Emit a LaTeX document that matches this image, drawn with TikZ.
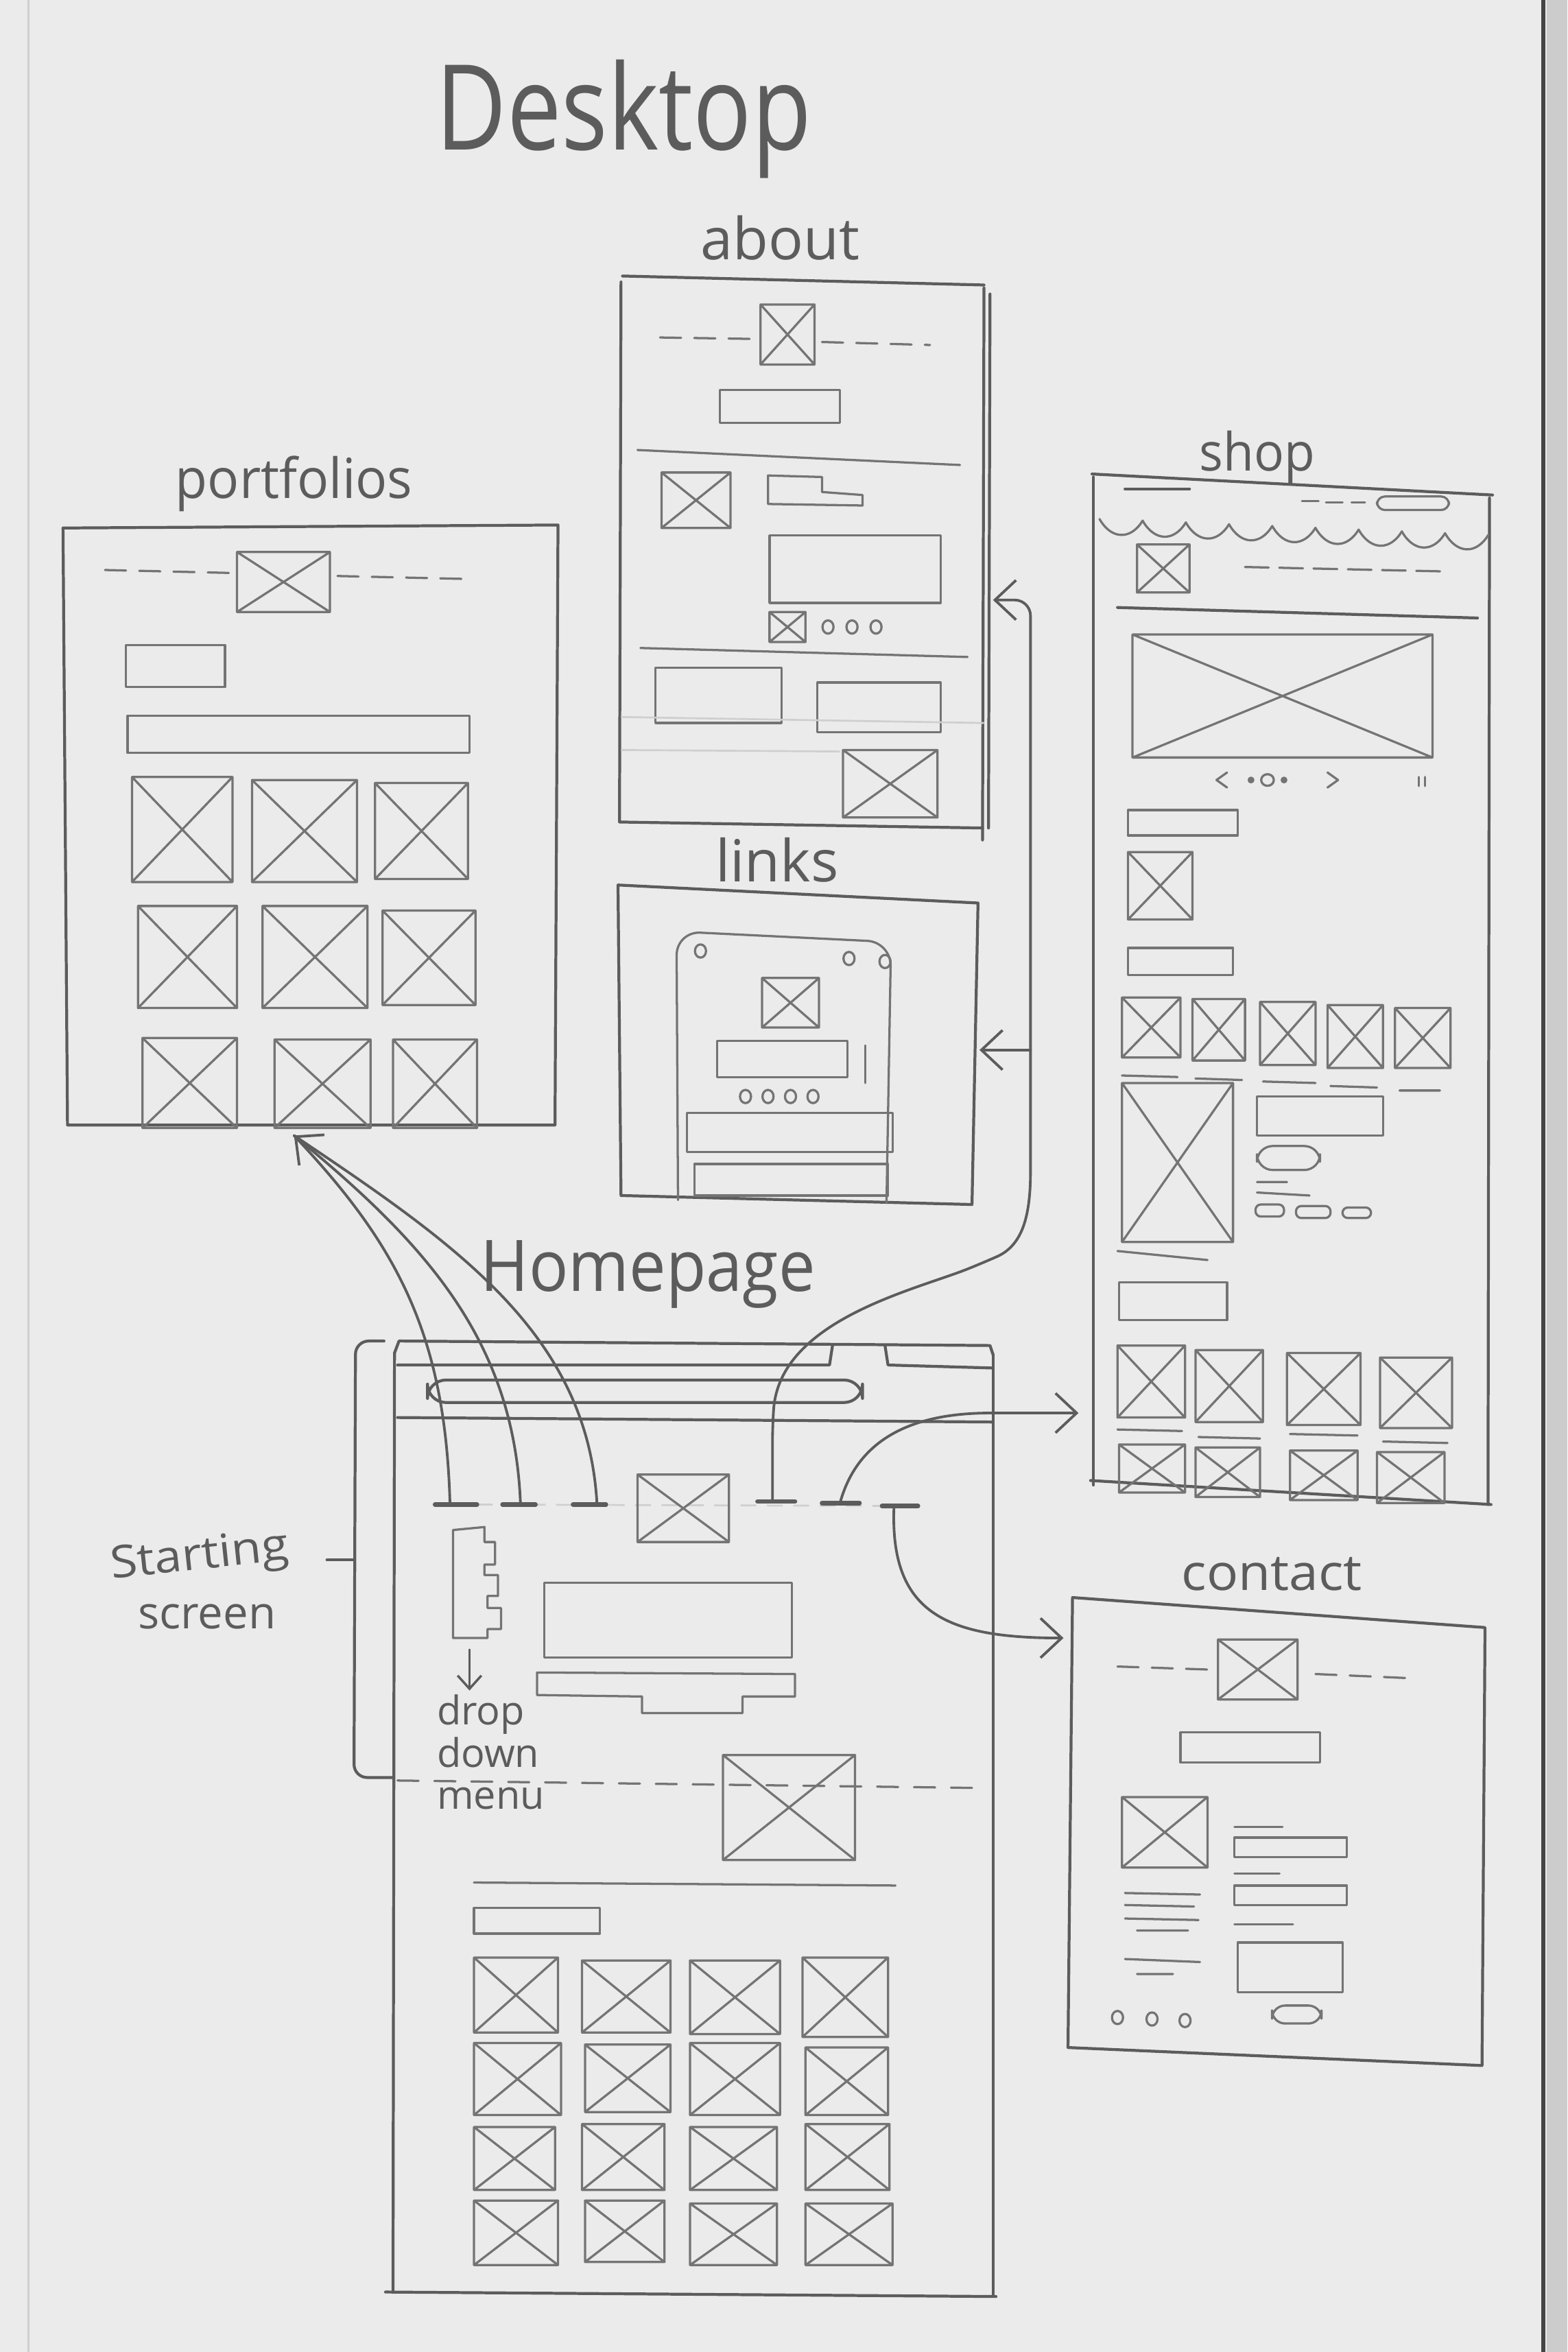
\documentclass[tikz,border=0pt]{standalone}
\usepackage{fontspec}
\setmainfont{Open Sans}
\usetikzlibrary{arrows.meta}

\definecolor{paper}{HTML}{EBEBEB}
\definecolor{pencil}{HTML}{5C5C5C}
\definecolor{softpencil}{HTML}{747474}
\definecolor{faint}{HTML}{CFCFCF}
\definecolor{pageedge}{HTML}{454545}

\tikzset{
  pageline/.style={draw=pencil, line width=1.1pt, line cap=round, line join=round},
  ink/.style={draw=softpencil, line width=0.85pt, line cap=round, line join=round},
  faintline/.style={draw=faint, line width=0.7pt},
  navmark/.style={draw=pencil, line width=1.7pt, line cap=round},
  dashedink/.style={ink, dash pattern=on 8pt off 5pt},
  lbl/.style={text=pencil, inner sep=0pt, anchor=base},
  link/.style={draw=pencil, line width=1pt, line cap=round,
    -{Straight Barb[length=8pt,width=15pt,line width=1pt]}},
  plainlink/.style={draw=pencil, line width=1pt, line cap=round},
}

% placeholder image: box with a cross
\newcommand\imgx[4]{\draw[ink] (#1,#2) rectangle (#3,#4) (#1,#2) -- (#3,#4) (#1,#4) -- (#3,#2);}
% plain content block
\newcommand\barbox[4]{\draw[ink] (#1,#2) rectangle (#3,#4);}
% small round dot
\newcommand\dotring[2]{\draw[ink] (#1,#2) ellipse [x radius=2.1pt, y radius=2.5pt];}

\begin{document}
\begin{tikzpicture}[x=0.02cm,y=-0.02cm]
\fill[paper] (0,0) rectangle (1045,1568);
\useasboundingbox (0,0) rectangle (1045,1568);
% sheet edges
\fill[gray!40] (1031,0) rectangle (1045,1568);
\draw[pageedge, line width=1.6pt] (1029,0) -- (1029,1568);
\draw[faintline] (19,0) -- (19,1568);

% ---------- titles ----------
\node[lbl, font=\fontsize{45}{50}\selectfont] (title) at (416,100) {\scalebox{0.82}[1]{Desktop}};
\node[lbl, font=\fontsize{22}{24}\selectfont] (aboutlbl) at (520,173) {about};
\node[lbl, font=\fontsize{22}{24}\selectfont] (linkslbl) at (518,588) {links};
\node[lbl, font=\fontsize{21}{24}\selectfont] (portlbl) at (196,332) {\scalebox{0.95}[1]{portfolios}};
\node[lbl, font=\fontsize{20}{24}\selectfont] (shoplbl) at (838,314) {\scalebox{0.95}[1]{shop}};
\node[lbl, font=\fontsize{27}{30}\selectfont] (homelbl) at (432,861) {\scalebox{0.92}[1]{Homepage}};
\node[lbl, font=\fontsize{19}{22}\selectfont] (contactlbl) at (848,1060) {\scalebox{1.05}[1]{contact}};
\node[lbl, font=\fontsize{17}{20}\selectfont, rotate=6] (startlbl) at (134,1046) {\scalebox{1.1}[1]{Starting}};
\node[lbl, font=\fontsize{17}{20}\selectfont] (screenlbl) at (138,1086) {screen};
\node[lbl, font=\fontsize{15}{18}\selectfont, anchor=base west] (droplbl) at (291,1150) {drop};
\node[lbl, font=\fontsize{15}{18}\selectfont, anchor=base west] (downlbl) at (291,1178) {down};
\node[lbl, font=\fontsize{15}{18}\selectfont, anchor=base west] (menulbl) at (291,1206) {menu};

% ---------- about ----------
\draw[pageline] (415,184) -- (656,190);
\draw[pageline] (414,188) -- (413,548) -- (655,552);
\draw[pageline] (656,192) -- (655,560);
\draw[pageline] (660,196) -- (659,552);
\draw[dashedink] (440,225) -- (505,226);
\draw[dashedink] (548,228) -- (620,230);
\imgx{507}{203}{543}{243}
\barbox{480}{260}{560}{282}
\draw[ink] (425,300) -- (640,310);
\imgx{441}{315}{487}{352}
\draw[ink] (512,317) -- (548,318) -- (548,328) -- (575,330) -- (575,337) -- (512,336) -- cycle;
\barbox{513}{357}{627}{402}
\imgx{513}{408}{537}{428}
\dotring{552}{418}\dotring{568}{418}\dotring{584}{418}
\draw[ink] (427,432) -- (645,438);
\barbox{437}{445}{521}{482}
\barbox{545}{455}{627}{488}
\draw[faintline] (414,478) -- (656,482);
\draw[faintline] (414,500) -- (560,501);
\imgx{562}{500}{625}{545}

% ---------- links ----------
\draw[pageline] (412,590) -- (652,602) -- (648,803) -- (414,797) -- cycle;
\draw[ink, rounded corners=9pt] (452,800) -- (451,621) -- (594,628) -- (591,802);
\dotring{467}{634}\dotring{566}{639}\dotring{590}{641}
\imgx{508}{652}{546}{685}
\barbox{478}{694}{565}{718}
\draw[ink] (577,697) -- (577,722);
\dotring{497}{731}\dotring{512}{731}\dotring{527}{731}\dotring{542}{731}
\barbox{458}{742}{595}{768}
\barbox{463}{776}{592}{797}

% ---------- portfolios ----------
\draw[pageline] (42,352) -- (372,350) -- (370,750) -- (45,750) -- cycle;
\draw[dashedink] (70,380) -- (155,382);
\draw[dashedink] (225,384) -- (312,386);
\imgx{158}{368}{220}{408}
\barbox{84}{430}{150}{458}
\barbox{85}{477}{313}{502}
\imgx{88}{518}{155}{588}\imgx{168}{520}{238}{588}\imgx{250}{522}{312}{586}
\imgx{92}{604}{158}{672}\imgx{175}{604}{245}{672}\imgx{255}{607}{317}{670}
\imgx{95}{692}{158}{752}\imgx{183}{693}{247}{752}\imgx{262}{693}{318}{752}

% ---------- shop ----------
\draw[pageline] (728,316) -- (995,330);
\draw[pageline] (729,318) -- (729,990);
\draw[pageline] (993,332) -- (992,1003);
\draw[pageline] (727,987) -- (994,1003);
\draw[pageline] (750,326) -- (793,326);
\draw[ink] (868,334) -- (879,334) (884,335) -- (895,335) (901,335) -- (910,335);
\draw[ink, rounded corners=3pt] (918,331) rectangle (966,340);
\foreach \i in {0,...,8}
  \draw[ink] ({733+28.8*\i},{346+1.2*\i}) .. controls ({741+28.8*\i},{360+1.2*\i}) and ({754+28.8*\i},{360+1.2*\i}) .. ({761.8+28.8*\i},{347+1.2*\i});
\imgx{758}{363}{793}{395}
\draw[ink, dash pattern=on 9pt off 4pt] (830,378) -- (965,381);
\draw[pageline] (745,405) -- (985,412);
\imgx{755}{423}{955}{505}
\draw[ink] (818,515) -- (811,520) -- (818,525);
\fill[softpencil] (834,520) circle (1.3pt) (856,520) circle (1.3pt);
\draw[ink] (845,520) ellipse [x radius=2.4pt, y radius=2.2pt];
\draw[ink] (885,515) -- (892,520) -- (885,525);
\draw[ink] (946,518) -- (946,524) (950,518) -- (950,524);
\barbox{752}{540}{825}{557}
\imgx{752}{568}{795}{613}
\barbox{752}{632}{822}{650}
\imgx{748}{665}{787}{705}\imgx{795}{666}{830}{707}\imgx{840}{668}{877}{710}\imgx{885}{670}{922}{712}\imgx{930}{672}{967}{712}
\draw[ink] (748,717) -- (785,718) (797,719) -- (828,720) (842,721) -- (877,722) (887,724) -- (918,725) (933,727) -- (960,727);
\imgx{748}{722}{822}{828}
\barbox{838}{731}{922}{757}
\draw[ink, rounded corners=6pt] (838,764) rectangle (880,780);
\draw[ink] (838,788) -- (858,788) (838,795) -- (873,797);
\draw[ink, rounded corners=2pt] (837,803) rectangle (856,811) (864,804) rectangle (887,812) (895,805) rectangle (914,812);
\draw[ink] (745,834) -- (805,840);
\barbox{746}{855}{818}{880}
\imgx{745}{897}{790}{945}\imgx{797}{900}{842}{948}\imgx{858}{902}{907}{950}\imgx{920}{905}{968}{952}
\draw[ink] (745,953) -- (788,954) (799,958) -- (840,959) (860,956) -- (905,957) (922,961) -- (965,962);
\imgx{746}{963}{790}{995}\imgx{797}{965}{840}{998}\imgx{860}{967}{905}{1000}\imgx{918}{968}{963}{1002}

% ---------- contact ----------
\draw[pageline] (715,1065) -- (990,1085) -- (988,1377) -- (712,1365) -- cycle;
\draw[dashedink] (745,1111) -- (805,1113);
\draw[dashedink] (877,1116) -- (945,1119);
\imgx{812}{1093}{865}{1133}
\barbox{787}{1155}{880}{1175}
\imgx{748}{1198}{805}{1245}
\draw[ink] (823,1218) -- (855,1218);
\barbox{823}{1225}{898}{1238}
\draw[ink] (823,1249) -- (853,1249);
\barbox{823}{1257}{898}{1270}
\draw[ink] (823,1283) -- (862,1283);
\barbox{825}{1295}{895}{1328}
\draw[ink] (750,1262) -- (800,1263) (750,1270) -- (796,1271) (750,1279) -- (799,1280) (758,1287) -- (792,1287) (750,1306) -- (800,1308) (758,1316) -- (782,1316);
\dotring{745}{1345}\dotring{768}{1346}\dotring{790}{1347}
\draw[ink, rounded corners=5pt] (848,1337) rectangle (881,1349);

% ---------- homepage ----------
\draw[pageline] (263,902) -- (266,894) -- (660,897) -- (662,903);
\draw[pageline] (265,910) -- (553,910) -- (555,897);
\draw[pageline] (590,897) -- (592,910) -- (662,912);
\draw[pageline, rounded corners=7pt] (285,920) rectangle (575,935);
\draw[pageline] (265,945) -- (662,948);
\draw[pageline] (263,902) -- (262,1528);
\draw[pageline] (662,903) -- (662,1530);
\draw[pageline] (257,1528) -- (664,1531);
% navigation bar
\draw[faintline, dash pattern=on 6pt off 4pt] (318,1003) -- (612,1004);
\draw[navmark] (290,1003) -- (318,1003) (335,1003) -- (357,1003) (382,1003) -- (404,1003);
\draw[navmark] (505,1001) -- (530,1001) (548,1002) -- (573,1002) (588,1004) -- (612,1004);
\imgx{425}{983}{486}{1028}
% drop-down menu
\draw[ink] (302,1020) -- (323,1018) -- (323,1028) -- (330,1028) -- (330,1043) -- (323,1043) -- (323,1050) -- (332,1050) -- (332,1064) -- (325,1064) -- (325,1072) -- (334,1072) -- (334,1086) -- (325,1086) -- (325,1092) -- (302,1092) -- cycle;
\coordinate (dd-out) at (313,1100);
\coordinate (dd-to) at (313,1127);
\draw[link, -{Straight Barb[length=5pt,width=9pt,line width=0.9pt]}] (dd-out) -- (dd-to);
% hero
\barbox{363}{1055}{528}{1105}
\draw[ink] (358,1115) -- (530,1116) -- (530,1131) -- (495,1131) -- (495,1142) -- (428,1142) -- (428,1131) -- (358,1130) -- cycle;
\draw[ink, dash pattern=on 8pt off 6pt] (265,1187) -- (655,1192);
\imgx{482}{1170}{570}{1240}
\draw[ink] (316,1255) -- (597,1257);
\barbox{316}{1272}{400}{1289}
\imgx{316}{1305}{372}{1355}\imgx{388}{1307}{447}{1355}\imgx{460}{1307}{520}{1356}\imgx{535}{1305}{592}{1358}
\imgx{316}{1362}{374}{1410}\imgx{390}{1363}{447}{1408}\imgx{460}{1362}{520}{1410}\imgx{537}{1365}{592}{1410}
\imgx{316}{1418}{370}{1460}\imgx{388}{1416}{443}{1460}\imgx{460}{1418}{518}{1460}\imgx{537}{1416}{593}{1460}
\imgx{316}{1467}{372}{1510}\imgx{390}{1467}{443}{1508}\imgx{460}{1469}{518}{1510}\imgx{537}{1469}{595}{1510}

% starting-screen bracket
\draw[pageline, rounded corners=5pt] (256,894) -- (237,894) -- (236,1185) -- (262,1185);
\draw[pageline] (218,1040) -- (236,1040);

% ---------- connectors ----------
\coordinate (nav1) at (300,1003);
\coordinate (nav2) at (347,1003);
\coordinate (nav3) at (398,1003);
\coordinate (nav4) at (515,1001);
\coordinate (nav5) at (560,1002);
\coordinate (nav6) at (596,1004);
\coordinate (pf-in) at (196,757);
\coordinate (ab-in) at (662,400);
\coordinate (ab-turn) at (687,400);
\coordinate (lk-from) at (687,700);
\coordinate (lk-in) at (653,700);
\coordinate (sh-in) at (719,942);
\coordinate (ct-in) at (709,1092);

\draw[plainlink] (nav1) .. controls (297,890) and (265,830) .. (pf-in);
\draw[link] (nav2) .. controls (343,895) and (285,830) .. (pf-in);
\draw[plainlink] (nav3) .. controls (392,890) and (305,830) .. (pf-in);

\draw[link, rounded corners=6pt] (nav4) -- (515,950) .. controls (520,880) and (610,860) .. (655,842) .. controls (682,830) and (687,810) .. (687,770) -- (ab-turn) -- (ab-in);
\draw[link] (lk-from) -- (lk-in);
\draw[link] (nav5) .. controls (572,958) and (610,942) .. (660,942) -- (sh-in);
\draw[link] (nav6) .. controls (593,1075) and (630,1092) .. (ct-in);

\end{tikzpicture}
\end{document}
